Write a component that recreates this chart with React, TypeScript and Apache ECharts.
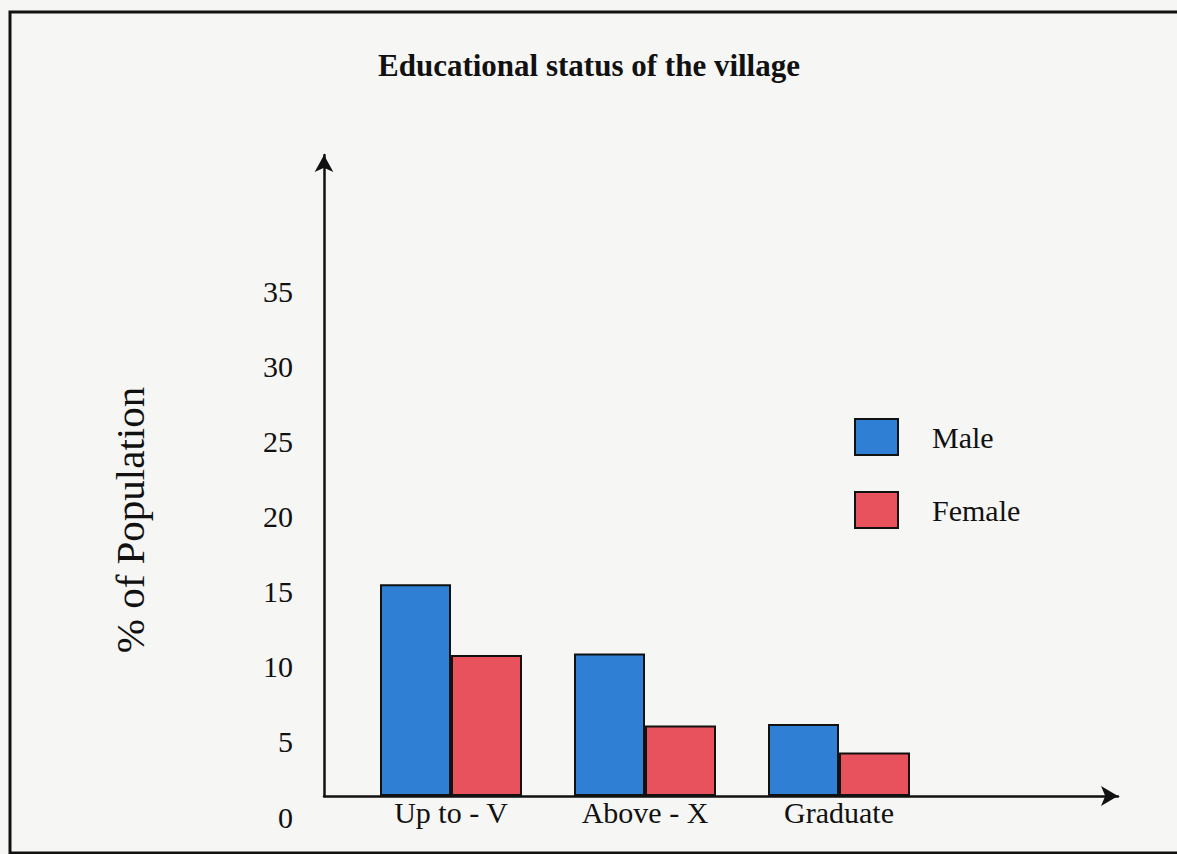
import React, { useEffect, useRef } from "react";
import * as echarts from "echarts";

const categories = ["Up to - V", "Above - X", "Graduate", ""];
const maleValues = [14.1, 9.5, 4.8];
const femaleValues = [9.4, 4.7, 2.9];
const yTickLabelMax = 35;
const yMax = 42.7;

const FONT = '"Liberation Serif", "Times New Roman", serif';

export default function App() {
  const ref = useRef<HTMLDivElement>(null);
  useEffect(() => {
    if (!ref.current) return;
    const chart = echarts.init(ref.current, null, { renderer: "svg" });
    chart.setOption({
      animation: false,
      backgroundColor: "#f6f6f4",
      title: {
        text: "Educational status of the village",
        left: 584,
        textAlign: "center",
        top: 45,
        textStyle: { fontFamily: FONT, fontSize: 31, fontWeight: "bold", color: "#111" },
      },
      legend: {
        orient: "vertical",
        left: 854,
        top: 418,
        padding: 0,
        itemWidth: 43,
        itemHeight: 36,
        itemGap: 35,
        icon: "rect",
        data: ["Male", "Female"],
        textStyle: { fontFamily: FONT, fontSize: 30, color: "#111", padding: [0, 0, 0, 29] },
      },
      grid: [
        { left: 324, right: 59, top: 155, bottom: 58 },
        { left: 354, right: 47, top: 155, bottom: 58 },
      ],
      xAxis: [
        {
          type: "value",
          gridIndex: 0,
          min: 0,
          max: 1,
          axisLine: { show: true, lineStyle: { color: "#111", width: 2.5 }, symbol: ["none", "arrow"], symbolSize: [15, 17] },
          axisTick: { show: false },
          axisLabel: { show: false },
          splitLine: { show: false },
        },
        {
          type: "category",
          gridIndex: 1,
          data: categories,
          axisLine: { show: false },
          axisTick: { show: false },
          axisLabel: { fontFamily: FONT, fontSize: 30, color: "#111", margin: 1 },
        },
      ],
      yAxis: [
        {
          type: "value",
          gridIndex: 0,
          min: 0,
          max: yMax,
          interval: 5,
          axisLine: { show: true, lineStyle: { color: "#111", width: 2.5 }, symbol: ["none", "arrow"], symbolSize: [14, 17] },
          axisTick: { show: false },
          splitLine: { show: false },
          axisLabel: {
            fontFamily: FONT,
            fontSize: 30,
            color: "#111",
            margin: 31,
            verticalAlign: "top",
            lineHeight: 42,
            formatter: (v: number) => (v <= yTickLabelMax ? String(v) : ""),
          },
        },
        { type: "value", gridIndex: 1, min: 0, max: yMax, show: false },
      ],
      graphic: [
        {
          type: "rect",
          shape: { x: 10, y: 12, width: 1200, height: 841 },
          style: { fill: "none", stroke: "#111", lineWidth: 3 },
          silent: true,
        },
        {
          type: "text",
          x: 130,
          y: 520,
          rotation: Math.PI / 2,
          style: {
            text: "% of Population",
            font: `41px ${FONT}`,
            fill: "#111",
            align: "center",
            verticalAlign: "middle",
          },
        },
      ],
      series: [
        {
          name: "Male",
          type: "bar",
          xAxisIndex: 1,
          yAxisIndex: 1,
          data: maleValues,
          barWidth: 71,
          barGap: "0%",
          itemStyle: { color: "#2f7fd4", borderColor: "#111", borderWidth: 2 },
        },
        {
          name: "Female",
          type: "bar",
          xAxisIndex: 1,
          yAxisIndex: 1,
          data: femaleValues,
          barWidth: 71,
          barGap: "0%",
          itemStyle: { color: "#e8525c", borderColor: "#111", borderWidth: 2 },
        },
      ],
    });
    return () => chart.dispose();
  }, []);
  return <div ref={ref} style={{ position: "fixed", left: 0, top: 0, width: 1177, height: 854 }} />;
}
